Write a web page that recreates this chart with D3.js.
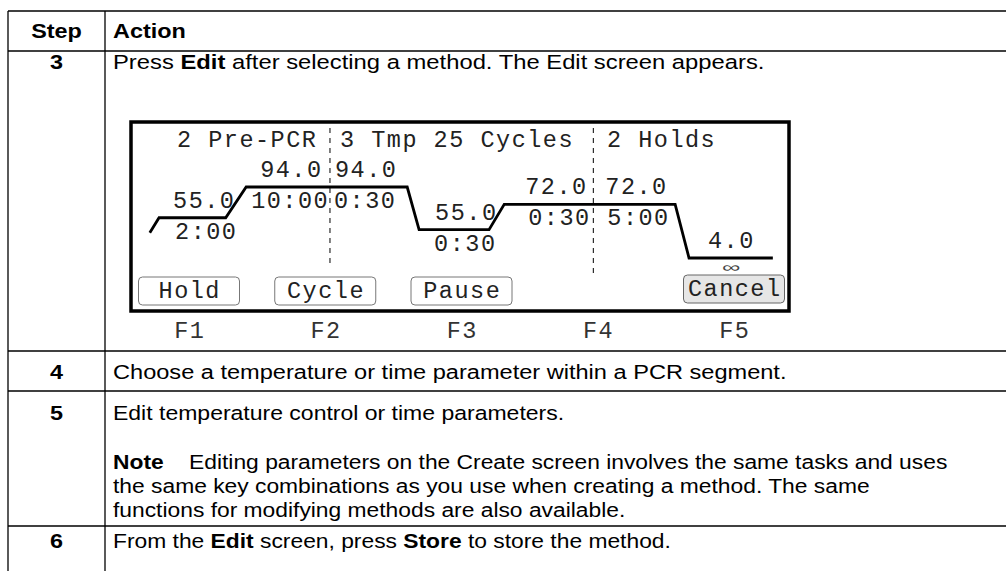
<!DOCTYPE html>
<html><head><meta charset="utf-8">
<script src="https://cdn.jsdelivr.net/npm/d3@7/dist/d3.min.js"></script>
<style>body{margin:0;background:#fff}svg{display:block}</style>
</head><body>
<svg id="c" width="1006" height="571"></svg>
<script>
// ---------- DATA ----------
const headers = ["Step", "Action"];
const stepNumbers = ["3", "4", "5", "", "6"];
const actionLines = [
  "Press **Edit** after selecting a method. The Edit screen appears.",
  "Choose a temperature or time parameter within a PCR segment.",
  "Edit temperature control or time parameters.",
  "**Note**    Editing parameters on the Create screen involves the same tasks and uses",
  "From the **Edit** screen, press **Store** to store the method."
];
const noteMore = [
  "the same key combinations as you use when creating a method. The same",
  "functions for modifying methods are also available."
];
const stageLabels = ["2 Pre-PCR", "3 Tmp 25 Cycles", "2 Holds"];
const stepTemps = ["55.0", "94.0", "94.0", "55.0", "72.0", "72.0", "4.0"];
const stepTimes = ["2:00", "10:00", "0:30", "0:30", "0:30", "5:00", "∞"];
const plotLevels = [55, 94, 94, 40, 72, 72, 4];   // displayed plateau heights (schematic)
const startLevel = 36;
const softKeys = ["Hold", "Cycle", "Pause", "", "Cancel"];
const fnKeys = ["F1", "F2", "F3", "F4", "F5"];

// ---------- LAYOUT ----------
const svg = d3.select("#c");
const W = 1006, H = 571;
const tblLeft = 8, colDiv = 105, textX = 113;
const rowLines = [11, 51, 351, 391, 526];
const sansScale = 1.2, sansSize = 19.5;

const g = svg.append("g").attr("stroke", "#000").attr("stroke-width", 1.3);
rowLines.forEach(y => g.append("line").attr("x1", tblLeft).attr("x2", W).attr("y1", y).attr("y2", y));
[tblLeft, colDiv].forEach(x => g.append("line").attr("x1", x).attr("x2", x).attr("y1", rowLines[0]).attr("y2", H));

function richText(x, y, str, opts = {}) {
  const t = svg.append("text")
    .attr("transform", `translate(${x},${y}) scale(${opts.sx || sansScale},1)`)
    .attr("font-family", "'Liberation Sans', Arial, Helvetica, sans-serif")
    .attr("font-size", opts.size || sansSize)
    .attr("fill", "#000")
    .attr("text-anchor", opts.anchor || "start")
    .style("white-space", "pre");
  str.split("**").forEach((part, i) => {
    if (!part) return;
    t.append("tspan").text(part).attr("font-weight", (i % 2 === 1 || opts.bold) ? "bold" : "normal");
  });
  return t;
}

richText((tblLeft + colDiv) / 2, 38, headers[0], {bold: true, anchor: "middle"});
richText(textX, 38, headers[1], {bold: true});

const rowBase = [69, 379, 420, 469, 548];
const rowSx = [1.22, 1.21, 1.18, 1.17, 1.17];
stepNumbers.forEach((s, i) => { if (s) richText((tblLeft + colDiv) / 2, rowBase[i], "**" + s + "**", {anchor: "middle"}); });
actionLines.forEach((a, i) => richText(textX, rowBase[i], a, {sx: rowSx[i]}));
noteMore.forEach((a, i) => richText(textX, rowBase[3] + 24 * (i + 1), a, {sx: 1.17}));

// ---------- SCREEN ----------
const box = {x0: 131, y0: 122, x1: 789, y1: 311};
const scr = svg.append("g");
const mono = "'Liberation Mono', 'Courier New', Courier, monospace";
const monoSize = 23.5, monoLS = 1.5;

const x = d3.scaleLinear().domain([0, 100]).range([130, 790]);
const y = d3.scaleLinear().domain([4, 94]).range([258, 187]);

const plateaus = [[4.4, 14.5], [17.6, 30.3], [30.3, 42.0], [43.8, 54.4], [56.7, 70.2], [70.2, 82.6], [84.7, 97.4]];
const dividers = [30.3, 70.2];
const dividerEnd = [268, 273];
const rampStart = 3.0;

scr.append("rect").attr("x", box.x0).attr("y", box.y0)
  .attr("width", box.x1 - box.x0).attr("height", box.y1 - box.y0)
  .attr("fill", "#fff").attr("stroke", "#000").attr("stroke-width", 3.5);

dividers.forEach((d, i) => scr.append("line")
  .attr("x1", x(d)).attr("x2", x(d)).attr("y1", 128).attr("y2", dividerEnd[i])
  .attr("stroke", "#000").attr("stroke-width", 1).attr("stroke-dasharray", "5,5"));

const pts = [[x(rampStart), y(startLevel)]];
plateaus.forEach((p, i) => { pts.push([x(p[0]), y(plotLevels[i])]); pts.push([x(p[1]), y(plotLevels[i])]); });
scr.append("path").attr("d", d3.line()(pts)).attr("fill", "none")
  .attr("stroke", "#000").attr("stroke-width", 2.8).attr("stroke-linejoin", "miter");

function monoText(xp, yp, s, anchor = "start", fill = "#222") {
  return scr.append("text").attr("x", xp).attr("y", yp).text(s)
    .attr("font-family", mono).attr("font-size", monoSize)
    .attr("letter-spacing", monoLS).attr("fill", fill).attr("text-anchor", anchor)
    .style("white-space", "pre");
}

const titleX = [177, 340, 607];
stageLabels.forEach((s, i) => monoText(titleX[i], 147, s));

const tempDx = [14, 14, 5, 16, 21, 12, 19];
const timeDx = [16, 5, 4, 15, 24, 14];
stepTemps.forEach((t, i) => monoText(x(plateaus[i][0]) + tempDx[i], y(plotLevels[i]) - 10, t));
stepTimes.forEach((t, i) => {
  if (t === "∞") {
    const cx = (x(plateaus[i][0]) + x(plateaus[i][1])) / 2;
    scr.append("text").attr("transform", `translate(${cx},${y(plotLevels[i]) + 14}) scale(1.35,0.75)`)
      .text(t)
      .attr("font-family", "'DejaVu Sans', sans-serif").attr("font-size", 19).attr("font-weight", "200")
      .attr("fill", "#444").attr("text-anchor", "middle");
  } else {
    monoText(x(plateaus[i][0]) + timeDx[i], y(plotLevels[i]) + 21, t);
  }
});

const keyX = d3.scalePoint().domain(fnKeys).range([189, 734]);
const btnW = 101, btnH = 28;
softKeys.forEach((k, i) => {
  if (!k) return;
  const cx = keyX(fnKeys[i]);
  const isCancel = k === "Cancel";
  const by = isCancel ? 275 : 277;
  scr.append("rect").attr("x", cx - btnW / 2).attr("y", by).attr("width", btnW).attr("height", btnH)
    .attr("rx", 4).attr("fill", isCancel ? "#e6e6e6" : "#fff")
    .attr("stroke", isCancel ? "#666" : "#777").attr("stroke-width", 1);
  monoText(cx + monoLS / 2, by + 21, k, "middle");
});
fnKeys.forEach(f => monoText(keyX(f) + monoLS / 2, 338, f, "middle", "#333"));
</script>
</body></html>
